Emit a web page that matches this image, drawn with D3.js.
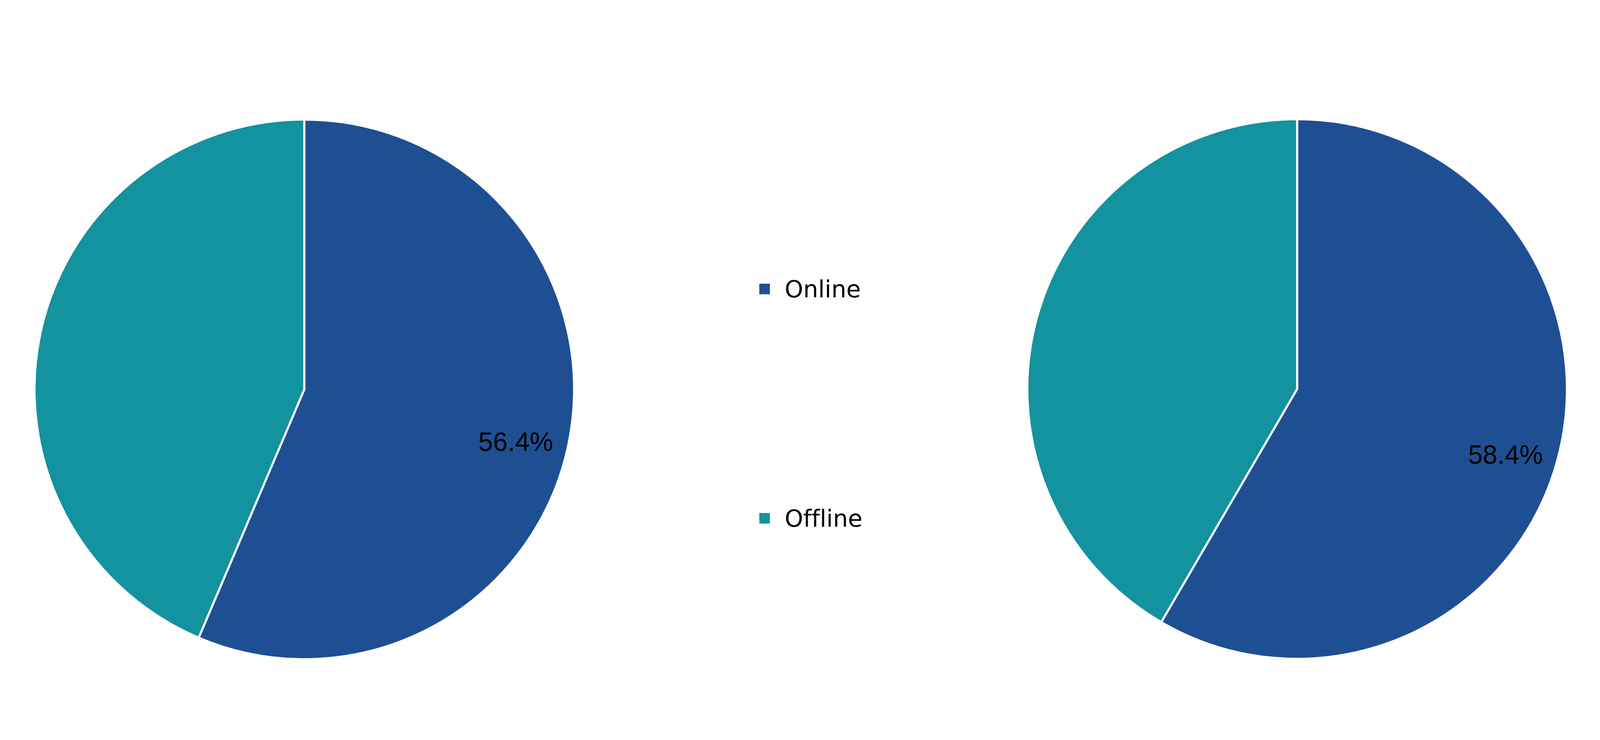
<!DOCTYPE html>
<html lang="en">
<head>
  <meta charset="UTF-8">
  <title>Online vs Offline share</title>
  <script src="https://d3js.org/d3.v7.min.js"></script>
  <style>
    html, body {
      margin: 0;
      height: 100%;
      overflow: hidden;
      background: #fff;
    }
    svg {
      display: block;
      width: 100vw;
      height: 100vh;
    }
    .label {
      font-family: "Liberation Sans", Arial, sans-serif;
      font-size: 75px;
      fill: #000;
    }
    .legend text {
      font-family: "DejaVu Sans", Verdana, sans-serif;
      font-size: 67px;
      font-variant-ligatures: none;
      fill: #000;
    }
  </style>
</head>
<body>
  <svg id="chart"></svg>
  <script>
    const categories = ["Online", "Offline"];
    const leftValues = [56.4, 43.6];
    const rightValues = [58.4, 41.6];
    const colors = ["#1f4f93", "#1392a0"];

    const width = 4543;
    const height = 1894;
    const radius = 766;

    // scale the drawing to whatever the viewport really is
    const svg = d3.select("#chart")
      .attr("viewBox", `0 0 ${width} ${height}`)
      .attr("preserveAspectRatio", "xMidYMid meet");

    const color = d3.scaleOrdinal().domain(categories).range(colors);

    const pie = d3.pie().sort(null).value(d => d.value);
    const arc = d3.arc().innerRadius(0).outerRadius(radius);
    const labelArc = d3.arc().innerRadius(radius * 0.8).outerRadius(radius * 0.8);

    function drawPie(values, cx, cy) {
      const data = categories.map((c, i) => ({ category: c, value: values[i] }));
      const g = svg.append("g").attr("transform", `translate(${cx},${cy})`);
      const arcs = pie(data);

      g.selectAll("path")
        .data(arcs)
        .enter().append("path")
        .attr("d", arc)
        .attr("fill", d => color(d.data.category))
        .attr("stroke", "#fff")
        .attr("stroke-width", 6)
        .attr("stroke-linejoin", "round");

      // only the larger slice carries a label
      g.selectAll("text")
        .data(arcs.filter(d => d.data.category === "Online"))
        .enter().append("text")
        .attr("class", "label")
        .attr("transform", d => `translate(${labelArc.centroid(d)})`)
        .attr("text-anchor", "middle")
        .attr("dy", "0.7em")
        .text(d => d.data.value.toFixed(1) + "%");
    }

    drawPie(leftValues, 864, 1002);
    drawPie(rightValues, 3683, 1001);

    // legend in the middle
    const legendY = d3.scalePoint().domain(categories).range([717, 1368]);
    const legend = svg.append("g")
      .attr("class", "legend")
      .attr("transform", "translate(2156,0)");

    const rows = legend.selectAll("g")
      .data(categories)
      .enter().append("g")
      .attr("transform", d => `translate(0,${legendY(d)})`);

    rows.append("rect")
      .attr("x", 0)
      .attr("y", -15)
      .attr("width", 30)
      .attr("height", 30)
      .attr("fill", d => color(d));

    rows.append("text")
      .attr("x", 72)
      .attr("y", 24)
      .text(d => d);
  </script>
</body>
</html>
